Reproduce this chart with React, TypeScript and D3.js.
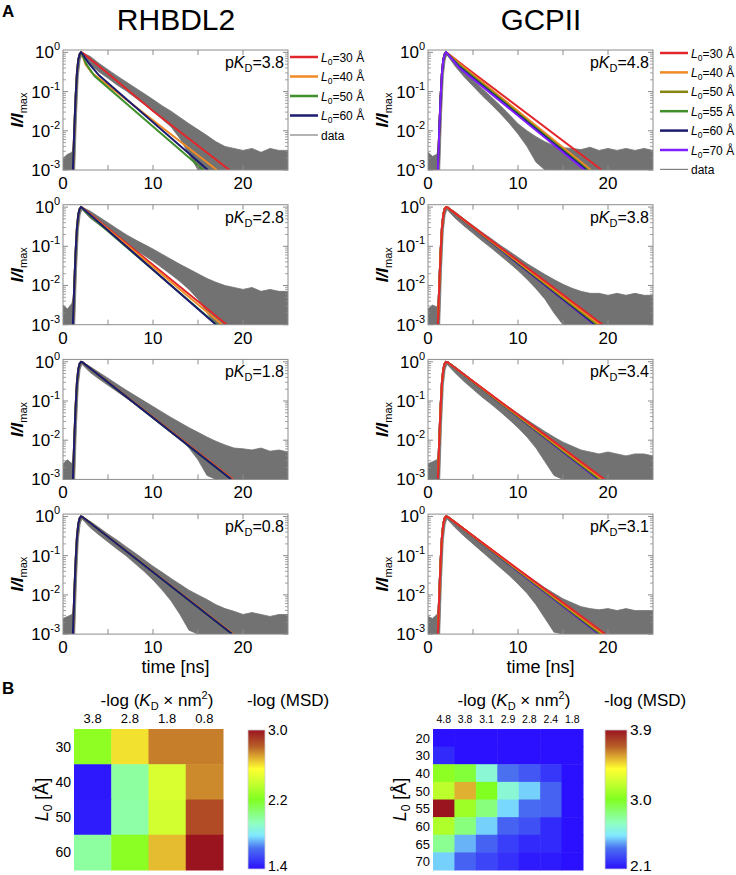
import React from 'react';
import * as d3 from 'd3';

// ---------- data ----------
const timeTicks = [0, 10, 20];
const decadeExps = [0, -1, -2, -3];

const rhbdlPKD = ['3.8', '2.8', '1.8', '0.8'];
const gcpPKD = ['4.8', '3.8', '3.4', '3.1'];
const rhbdlL0 = [30, 40, 50, 60];
const gcpL0 = [30, 40, 50, 55, 60, 70];

// rising edge shared by all fitted curves (time [ns], I/Imax)
const riseT = [1.1, 1.25, 1.4, 1.55, 1.7, 1.85, 2.0];
const riseI = [0.001, 0.01, 0.07, 0.3, 0.65, 0.9, 1.0];

// decay part of each fit [t, I/Imax], one list per panel, one entry per L0
const rhbdlFits = [
  [
    [[2.15, 0.98], [5, 0.29], [10, 0.032], [18.5, 0.001]],
    [[2.15, 0.85], [2.5, 0.5], [3.2, 0.3], [17.1, 0.001]],
    [[2.15, 0.85], [2.6, 0.5], [3.5, 0.25], [15.6, 0.001]],
    [[2.15, 0.92], [2.8, 0.55], [4, 0.26], [16.1, 0.001]],
  ],
  [
    [[2.15, 0.97], [18.2, 0.001]],
    [[2.15, 0.95], [17.7, 0.001]],
    [[2.15, 0.93], [3, 0.6], [17.1, 0.001]],
    [[2.15, 0.95], [17.0, 0.001]],
  ],
  [
    [[2.15, 0.98], [18.9, 0.001]],
    [[2.15, 0.98], [18.8, 0.001]],
    [[2.15, 0.98], [18.7, 0.001]],
    [[2.15, 0.98], [18.7, 0.001]],
  ],
  [
    [[2.15, 0.98], [18.9, 0.001]],
    [[2.15, 0.98], [18.9, 0.001]],
    [[2.15, 0.98], [18.8, 0.001]],
    [[2.15, 0.98], [18.8, 0.001]],
  ],
];

const gcpFits = [
  [
    [[2.2, 0.95], [4, 0.45], [19.3, 0.001]],
    [[2.2, 0.92], [3.8, 0.45], [18.1, 0.001]],
    [[2.2, 0.9], [3.7, 0.43], [17.8, 0.001]],
    [[2.2, 0.9], [3.6, 0.42], [17.7, 0.001]],
    [[2.2, 0.9], [3.5, 0.42], [17.6, 0.001]],
    [[2.2, 0.9], [3.5, 0.4], [17.4, 0.001]],
  ],
  [
    [[2.2, 0.97], [19.4, 0.001]],
    [[2.2, 0.97], [19.1, 0.001]],
    [[2.2, 0.97], [18.9, 0.001]],
    [[2.2, 0.97], [18.8, 0.001]],
    [[2.2, 0.97], [18.6, 0.001]],
    [[2.2, 0.97], [18.5, 0.001]],
  ],
  [
    [[2.2, 0.97], [19.6, 0.001]],
    [[2.2, 0.97], [19.4, 0.001]],
    [[2.2, 0.97], [19.2, 0.001]],
    [[2.2, 0.97], [19.1, 0.001]],
    [[2.2, 0.97], [19.0, 0.001]],
    [[2.2, 0.97], [18.9, 0.001]],
  ],
  [
    [[2.2, 0.97], [19.7, 0.001]],
    [[2.2, 0.97], [19.5, 0.001]],
    [[2.2, 0.97], [19.3, 0.001]],
    [[2.2, 0.97], [19.2, 0.001]],
    [[2.2, 0.97], [19.1, 0.001]],
    [[2.2, 0.97], [19.0, 0.001]],
  ],
];

// measured decays: upper / lower envelope of the noisy trace, log10(I/Imax)
const dataT = [0, 0.5, 1, 1.15, 1.3, 1.5, 1.7, 1.9, 2.1, 3, 4, 5, 6, 7, 8, 9, 10, 11, 12, 13, 14, 15, 16, 17, 18, 19, 20, 21, 22, 23, 24, 25];

const rhbdlUpper = [
  [-2.7, -2.6, -2.55, -2.4, -1.6, -0.6, -0.15, -0.02, 0, -0.1, -0.28, -0.44, -0.6, -0.75, -0.9, -1.05, -1.2, -1.36, -1.5, -1.66, -1.82, -1.97, -2.12, -2.28, -2.4, -2.45, -2.5, -2.45, -2.55, -2.45, -2.5, -2.5],
  [-2.5, -2.6, -2.45, -2.3, -1.6, -0.6, -0.15, -0.02, 0, -0.1, -0.25, -0.4, -0.55, -0.7, -0.83, -0.95, -1.07, -1.2, -1.33, -1.46, -1.58, -1.7, -1.82, -1.92, -2.0, -2.05, -2.1, -2.05, -2.15, -2.1, -2.15, -2.15],
  [-2.6, -2.5, -2.6, -2.4, -1.6, -0.6, -0.15, -0.02, 0, -0.12, -0.27, -0.42, -0.57, -0.72, -0.86, -1.0, -1.14, -1.28, -1.42, -1.55, -1.68, -1.8, -1.92, -2.03, -2.12, -2.2, -2.22, -2.25, -2.2, -2.28, -2.25, -2.3],
  [-2.6, -2.55, -2.5, -2.4, -1.6, -0.6, -0.15, -0.02, 0, -0.12, -0.28, -0.45, -0.6, -0.77, -0.93, -1.1, -1.27, -1.42, -1.58, -1.73, -1.88, -2.0, -2.12, -2.25, -2.35, -2.42, -2.5, -2.45, -2.5, -2.55, -2.5, -2.5],
];
const rhbdlLower = [
  [-3, -3, -3, -3, -3, -1.6, -0.6, -0.2, -0.06, -0.3, -0.5, -0.66, -0.83, -0.98, -1.15, -1.32, -1.5, -1.7, -1.9, -2.2, -2.6, -3, -3, -3, -3, -3, -3, -3, -3, -3, -3, -3],
  [-3, -3, -3, -3, -3, -1.6, -0.6, -0.2, -0.06, -0.28, -0.45, -0.62, -0.78, -0.93, -1.08, -1.23, -1.38, -1.55, -1.72, -1.9, -2.1, -2.35, -2.7, -3, -3, -3, -3, -3, -3, -3, -3, -3],
  [-3, -3, -3, -3, -3, -1.6, -0.6, -0.2, -0.06, -0.27, -0.44, -0.6, -0.76, -0.92, -1.08, -1.24, -1.4, -1.58, -1.76, -1.96, -2.2, -2.5, -2.9, -3, -3, -3, -3, -3, -3, -3, -3, -3],
  [-3, -3, -3, -3, -3, -1.6, -0.6, -0.2, -0.06, -0.28, -0.47, -0.65, -0.83, -1.0, -1.2, -1.4, -1.62, -1.87, -2.15, -2.5, -2.9, -3, -3, -3, -3, -3, -3, -3, -3, -3, -3, -3],
];
const gcpUpper = [
  [-2.55, -2.65, -2.6, -2.4, -1.6, -0.6, -0.15, -0.02, 0, -0.22, -0.47, -0.7, -0.92, -1.13, -1.35, -1.58, -1.82, -2.0, -2.15, -2.28, -2.38, -2.43, -2.45, -2.48, -2.42, -2.5, -2.45, -2.5, -2.45, -2.5, -2.45, -2.5],
  [-2.6, -2.5, -2.55, -2.4, -1.6, -0.6, -0.15, -0.02, 0, -0.12, -0.3, -0.47, -0.64, -0.8, -0.97, -1.12, -1.28, -1.44, -1.58, -1.72, -1.85, -1.97, -2.07, -2.15, -2.2, -2.2, -2.25, -2.2, -2.25, -2.2, -2.25, -2.25],
  [-2.6, -2.55, -2.5, -2.4, -1.6, -0.6, -0.15, -0.02, 0, -0.12, -0.3, -0.48, -0.66, -0.83, -1.0, -1.16, -1.32, -1.48, -1.63, -1.78, -1.92, -2.05, -2.15, -2.25, -2.3, -2.35, -2.3, -2.35, -2.4, -2.35, -2.35, -2.4],
  [-2.55, -2.6, -2.5, -2.4, -1.6, -0.6, -0.15, -0.02, 0, -0.12, -0.3, -0.48, -0.66, -0.83, -1.0, -1.17, -1.34, -1.5, -1.66, -1.82, -1.96, -2.1, -2.2, -2.3, -2.35, -2.38, -2.35, -2.4, -2.35, -2.4, -2.4, -2.4],
];
const gcpLower = [
  [-3, -3, -3, -3, -3, -1.6, -0.6, -0.2, -0.06, -0.35, -0.62, -0.86, -1.1, -1.32, -1.55, -1.8, -2.08, -2.4, -2.8, -3, -3, -3, -3, -3, -3, -3, -3, -3, -3, -3, -3, -3],
  [-3, -3, -3, -3, -3, -1.6, -0.6, -0.2, -0.06, -0.28, -0.48, -0.67, -0.86, -1.04, -1.23, -1.42, -1.62, -1.84, -2.08, -2.35, -2.7, -3, -3, -3, -3, -3, -3, -3, -3, -3, -3, -3],
  [-3, -3, -3, -3, -3, -1.6, -0.6, -0.2, -0.06, -0.28, -0.5, -0.7, -0.9, -1.08, -1.27, -1.47, -1.68, -1.92, -2.2, -2.55, -2.9, -3, -3, -3, -3, -3, -3, -3, -3, -3, -3, -3],
  [-3, -3, -3, -3, -3, -1.6, -0.6, -0.2, -0.06, -0.28, -0.5, -0.7, -0.9, -1.1, -1.3, -1.5, -1.72, -1.96, -2.25, -2.6, -2.95, -3, -3, -3, -3, -3, -3, -3, -3, -3, -3, -3],
];

// heat maps: -log(MSD)
const rhbdlKD = ['3.8', '2.8', '1.8', '0.8'];
const rhbdlMSD = [
  [2.24, 2.6, 2.76, 2.76],
  [1.42, 1.98, 2.44, 2.74],
  [1.43, 1.97, 2.42, 2.86],
  [1.98, 2.23, 2.66, 3.0],
];
const gcpKD = ['4.8', '3.8', '3.1', '2.9', '2.8', '2.4', '1.8'];
const gcpRows = [20, 30, 40, 50, 55, 60, 65, 70];
const gcpMSD = [
  [2.1, 2.1, 2.1, 2.1, 2.1, 2.1, 2.1],
  [2.17, 2.1, 2.1, 2.1, 2.1, 2.1, 2.1],
  [3.04, 2.95, 2.64, 2.37, 2.3, 2.21, 2.1],
  [3.18, 3.54, 3.0, 2.64, 2.5, 2.33, 2.1],
  [3.9, 3.09, 2.82, 2.51, 2.35, 2.33, 2.1],
  [3.14, 2.82, 2.5, 2.33, 2.28, 2.17, 2.1],
  [2.78, 2.46, 2.33, 2.23, 2.17, 2.17, 2.1],
  [2.5, 2.33, 2.25, 2.19, 2.13, 2.13, 2.1],
];

// ---------- styling ----------
const FONT = 'Liberation Sans, Arial, Helvetica, sans-serif';
const PW = 225;
const PH = 120;
const panelTops = [50, 204.7, 359.4, 514.1];
const rhbdlColors = ['#e3262b', '#f08a24', '#3f8f2a', '#1d1b6f'];
const gcpColors = ['#e3262b', '#f08a24', '#85850f', '#3f8f2a', '#1d1b6f', '#7f1fff'];
const dataGray = '#727272';
const frameGray = '#8c8c8c';
const cmapStops = [0, 0.15, 0.24, 0.33, 0.5, 0.62, 0.72, 0.8, 0.88, 1];
const cmapColors = ['#2a10ff', '#4a70f0', '#80e8ff', '#90ffc0', '#80ff20', '#c8ff30', '#ffff30', '#e0b030', '#b86028', '#9a1420'];
const cmap = d3.scaleLinear<string>().domain(cmapStops).range(cmapColors).interpolate(d3.interpolateRgb);

function DecayPanel({ id, x0, top, fits, colors, redOnTop, upper, lower, pkd }: any) {
  const xs = d3.scaleLinear().domain([0, 25]).range([x0, x0 + PW]);
  const ys = d3.scaleLog().domain([1e-3, 1.15]).range([top + PH, top]);
  const line = d3.line<number[]>().x(d => xs(d[0])).y(d => ys(d[1]));
  const area = d3.area<number>()
    .x((_, i) => xs(dataT[i]))
    .y0((_, i) => ys(Math.pow(10, lower[i])))
    .y1(d => ys(Math.pow(10, d)));
  const rise = riseT.map((t, i) => [t, riseI[i]]);
  const idx = fits.map((_: any, i: number) => i);
  const order = redOnTop ? idx.slice().reverse() : idx;
  const minor: number[] = [];
  decadeExps.slice(1).forEach(e => { for (let k = 2; k <= 9; k++) minor.push(k * Math.pow(10, e)); });
  const xMajor = [5, 10, 15, 20];
  return (
    <g>
      <clipPath id={id}><rect x={x0} y={top} width={PW} height={PH} /></clipPath>
      <g clipPath={`url(#${id})`}>
        <path d={area(upper) || ''} fill={dataGray} stroke={dataGray} strokeWidth={0.8} />
        {order.map((i: number) => (
          <path key={i} d={line(rise.concat(fits[i])) || ''} fill="none" stroke={colors[i]} strokeWidth={2} />
        ))}
      </g>
      {decadeExps.map(e => (
        <g key={e}>
          <line x1={x0} x2={x0 + 5} y1={ys(Math.pow(10, e))} y2={ys(Math.pow(10, e))} stroke={frameGray} />
          <line x1={x0 + PW} x2={x0 + PW - 5} y1={ys(Math.pow(10, e))} y2={ys(Math.pow(10, e))} stroke={frameGray} />
          <text x={x0 - 3} y={ys(Math.pow(10, e)) + 6} textAnchor="end" fontSize={17}>
            10<tspan fontSize={11} dy={-8}>{e}</tspan>
          </text>
        </g>
      ))}
      {minor.map(v => (
        <g key={v}>
          <line x1={x0} x2={x0 + 3} y1={ys(v)} y2={ys(v)} stroke={frameGray} strokeWidth={0.8} />
          <line x1={x0 + PW} x2={x0 + PW - 3} y1={ys(v)} y2={ys(v)} stroke={frameGray} strokeWidth={0.8} />
        </g>
      ))}
      {xMajor.map(t => (
        <g key={t}>
          <line x1={xs(t)} x2={xs(t)} y1={top} y2={top + 5} stroke={frameGray} />
          <line x1={xs(t)} x2={xs(t)} y1={top + PH} y2={top + PH - 5} stroke={frameGray} />
        </g>
      ))}
      <rect x={x0} y={top} width={PW} height={PH} fill="none" stroke={frameGray} />
      {timeTicks.map(t => (
        <text key={t} x={xs(t)} y={top + PH + 19} textAnchor="middle" fontSize={17}>{t}</text>
      ))}
      <text x={x0 - 40} y={top + PH / 2} transform={`rotate(-90 ${x0 - 40} ${top + PH / 2})`} textAnchor="middle" fontSize={17}>
        <tspan fontWeight="bold" fontStyle="italic">I/I</tspan>
        <tspan fontSize={11} dy={4}>max</tspan>
      </text>
      <text x={x0 + PW - 4} y={top + 18} textAnchor="end" fontSize={16}>
        p<tspan fontStyle="italic">K</tspan><tspan fontSize={11} dy={4}>D</tspan><tspan dy={-4}>={pkd}</tspan>
      </text>
    </g>
  );
}

function Legend({ x, y0, step, l0s, colors }: any) {
  return (
    <g>
      {l0s.map((l: number, i: number) => (
        <g key={l}>
          <line x1={x} x2={x + 28} y1={y0 + i * step} y2={y0 + i * step} stroke={colors[i]} strokeWidth={2.5} />
          <text x={x + 31} y={y0 + i * step + 4.5} fontSize={12}>
            <tspan fontStyle="italic">L</tspan><tspan fontSize={8.5} dy={3}>0</tspan><tspan dy={-3}>={l} Å</tspan>
          </text>
        </g>
      ))}
      <line x1={x} x2={x + 28} y1={y0 + l0s.length * step} y2={y0 + l0s.length * step} stroke="#808080" strokeWidth={1.2} />
      <text x={x + 31} y={y0 + l0s.length * step + 4.5} fontSize={12}>data</text>
    </g>
  );
}

function HeatMap({ id, x0, x1, y0, y1, cols, rows, values, vmin, vmax, colFont, rowFont, titleX, yTitleX, cbX, cbW, cbLabels, cbFont }: any) {
  const xb = d3.scaleBand<string>().domain(cols).range([x0, x1]);
  const yb = d3.scaleBand<string>().domain(rows.map(String)).range([y0, y1]);
  const norm = d3.scaleLinear().domain([vmin, vmax]).range([0, 1]).clamp(true);
  const cbY = d3.scaleLinear().domain([vmin, vmax]).range([y1 - 1, y0 + 1]);
  return (
    <g>
      <defs>
        <linearGradient id={id} x1="0" y1="1" x2="0" y2="0">
          {cmapStops.map((s, i) => <stop key={s} offset={s} stopColor={cmapColors[i]} />)}
        </linearGradient>
      </defs>
      {values.map((row: number[], r: number) => row.map((v, c) => (
        <rect key={`${r}-${c}`} x={xb(cols[c])} y={yb(String(rows[r]))} width={xb.bandwidth() + 0.5} height={yb.bandwidth() + 0.5} fill={cmap(norm(v))} />
      )))}
      {cols.map((c: string) => (
        <text key={c} x={(xb(c) || 0) + xb.bandwidth() / 2} y={723} textAnchor="middle" fontSize={colFont}>{c}</text>
      ))}
      {rows.map((r: number) => (
        <text key={r} x={x0 - 3} y={(yb(String(r)) || 0) + yb.bandwidth() / 2 + 5} textAnchor="end" fontSize={rowFont}>{r}</text>
      ))}
      <text x={titleX} y={706} textAnchor="middle" fontSize={17}>
        -log (<tspan fontStyle="italic">K</tspan><tspan fontSize={11} dy={4}>D</tspan><tspan dy={-4}> × nm</tspan><tspan fontSize={11} dy={-7}>2</tspan><tspan dy={7}>)</tspan>
      </text>
      <text x={yTitleX} y={(y0 + y1) / 2} transform={`rotate(-90 ${yTitleX} ${(y0 + y1) / 2})`} textAnchor="middle" fontSize={18}>
        <tspan fontStyle="italic">L</tspan><tspan fontSize={12} dy={4}>0</tspan><tspan dy={-4}> [Å]</tspan>
      </text>
      <rect x={cbX} y={y0 + 1} width={cbW} height={y1 - y0 - 2} fill={`url(#${id})`} stroke="#d0d0d0" strokeWidth={0.8} />
      {cbLabels.map((v: number) => (
        <text key={v} x={cbX + cbW + 3} y={Math.min(cbY(v) + 5, 871)} fontSize={cbFont}>{v.toFixed(1)}</text>
      ))}
      <text x={cbX - 1} y={706} fontSize={17}>-log (MSD)</text>
    </g>
  );
}

export default function App() {
  return (
    <svg width={736} height={875} style={{ position: 'absolute', left: 0, top: 0, background: '#fff' }} fontFamily={FONT}>
      <text x={2} y={17} fontSize={17} fontWeight="bold">A</text>
      <text x={176} y={30} textAnchor="middle" fontSize={30}>RHBDL2</text>
      <text x={541} y={30} textAnchor="middle" fontSize={29.5}>GCPII</text>
      {panelTops.map((top, r) => (
        <DecayPanel key={`l${r}`} id={`cl${r}`} x0={63} top={top} fits={rhbdlFits[r]} colors={rhbdlColors}
          redOnTop={false} upper={rhbdlUpper[r]} lower={rhbdlLower[r]} pkd={rhbdlPKD[r]} />
      ))}
      {panelTops.map((top, r) => (
        <DecayPanel key={`r${r}`} id={`cr${r}`} x0={428} top={top} fits={gcpFits[r]} colors={gcpColors}
          redOnTop={r > 0} upper={gcpUpper[r]} lower={gcpLower[r]} pkd={gcpPKD[r]} />
      ))}
      <Legend x={290} y0={57} step={19.5} l0s={rhbdlL0} colors={rhbdlColors} />
      <Legend x={660} y0={53} step={19.4} l0s={gcpL0} colors={gcpColors} />
      <text x={63 + PW / 2} y={673} textAnchor="middle" fontSize={18}>time [ns]</text>
      <text x={428 + PW / 2} y={673} textAnchor="middle" fontSize={18}>time [ns]</text>

      <text x={2} y={694} fontSize={17} fontWeight="bold">B</text>
      <HeatMap id="cbl" x0={74} x1={223} y0={729} y1={870} cols={rhbdlKD} rows={rhbdlL0} values={rhbdlMSD}
        vmin={1.4} vmax={3.0} colFont={13} rowFont={14} titleX={157} yTitleX={48} cbX={248} cbW={17} cbLabels={[3.0, 2.2, 1.4]} cbFont={14} />
      <HeatMap id="cbr" x0={433} x1={583} y0={729} y1={870} cols={gcpKD} rows={gcpRows} values={gcpMSD}
        vmin={2.1} vmax={3.9} colFont={10.5} rowFont={13} titleX={514} yTitleX={406} cbX={605} cbW={22} cbLabels={[3.9, 3.0, 2.1]} cbFont={15.5} />
    </svg>
  );
}
